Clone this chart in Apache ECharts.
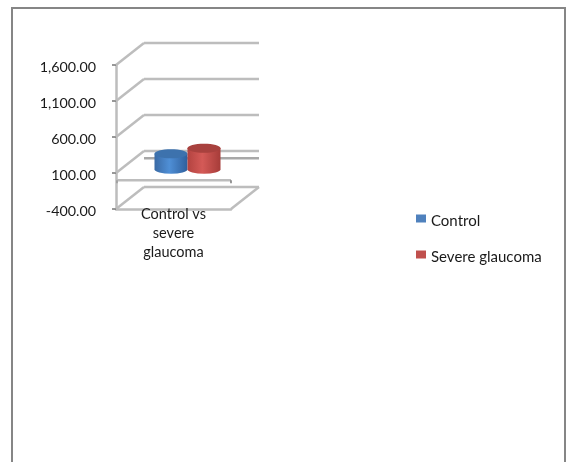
<!DOCTYPE html>
<html><head><meta charset="utf-8">
<style>html,body{margin:0;padding:0;background:#fff;overflow:hidden}#c{position:absolute;left:0;top:0;width:566px;height:462px;filter:blur(0.5px)}
#f{position:absolute;left:11px;top:7px;width:555px;height:455px;border:2px solid #868686;border-bottom:none;box-sizing:border-box}</style>
<script src="https://cdn.jsdelivr.net/npm/echarts@6/dist/echarts.min.js"></script></head>
<body><div id="f"></div><div id="c"></div>
<script>
const categories = ['Control vs\nsevere\nglaucoma'];
const controlValues = [215];
const severeValues = [290];
const tickValues = [-400, 100, 600, 1100, 1600];
const zeroPlane = [0];

const DX = 28, DY = -22, GRAY = '#bdbdbd';
const chart = echarts.init(document.getElementById('c'));
const line = (a, b, w, c) => ({type:'line', silent:true,
  shape:{x1:a[0],y1:a[1],x2:b[0],y2:b[1]}, style:{stroke:c||GRAY,lineWidth:w||2.5}});

function wallItem(params, api){
  const v = api.value(0);
  const cs = params.coordSys;
  const p = api.coord([0, v]);
  const left = cs.x, right = cs.x + cs.width, y = p[1];
  const kids = [
    line([left,y],[left+DX,y+DY]),
    line([left+DX,y+DY],[right+DX,y+DY])
  ];
  if (v === tickValues[0]) kids.push(line([right,y],[right+DX,y+DY]));
  return {type:'group', children:kids};
}
function zeroItem(params, api){
  const cs = params.coordSys;
  const y = api.coord([0, api.value(0)])[1];
  return {type:'group', children:[
    line([cs.x+DX,y+DY],[cs.x+cs.width+DX,y+DY],2.5,'#a8a8a8'),
    line([cs.x+1,y],[cs.x+cs.width,y]),
    line([cs.x+1,y],[cs.x+1,y+3],1.5,'#999'),
    line([cs.x+cs.width,y],[cs.x+cs.width,y+3],1.5,'#777')
  ]};
}
function cylinder(side, colors){
  return function(params, api){
    const band = api.size([1,0])[0];
    const w = band * 0.287, rx = w/2, ry = 4.5;
    const cx = api.coord([api.value(0), 0])[0] + DX/2 + side*rx;
    const yBase = api.coord([0, 0])[1] + DY/2;
    const yTop = api.coord([0, api.value(1)])[1] + DY/2;
    const body = {type:'path', silent:true,
      shape:{pathData:`M${cx-rx} ${yTop}L${cx-rx} ${yBase}A${rx} ${ry} 0 0 0 ${cx+rx} ${yBase}L${cx+rx} ${yTop}Z`},
      style:{fill:new echarts.graphic.LinearGradient(0,0,1,0,[
        {offset:0,color:colors[0]},{offset:.45,color:colors[1]},{offset:1,color:colors[2]}])}};
    const top = {type:'ellipse', silent:true, shape:{cx:cx,cy:yTop,rx:rx,ry:ry}, style:{fill:colors[3]}};
    return {type:'group', children:[body, top]};
  };
}
chart.setOption({
  animation:false,
  textStyle:{fontFamily:'Lato'},
  grid:{left:116, top:65, width:115, height:144, containLabel:false},
  xAxis:{type:'category', data:categories,
    axisLine:{onZero:false, lineStyle:{color:GRAY,width:2.5}},
    axisTick:{show:false},
    axisLabel:{color:'#1a1a1a', fontSize:14.5, lineHeight:19, margin:-4, interval:0}},
  yAxis:{type:'value', min:-400, max:1600, interval:500,
    axisLine:{show:true, lineStyle:{color:GRAY,width:2.5}},
    axisTick:{show:true, length:4, lineStyle:{color:'#777',width:1.5}},
    splitLine:{show:false},
    axisLabel:{color:'#1a1a1a', fontSize:14.3, margin:20,
      rich:{a:{color:'#1a1a1a',fontSize:14.3,fontFamily:'Lato',padding:[4,0,0,0]}},
      formatter:v=>'{a|'+v.toLocaleString('en-US',{minimumFractionDigits:2,maximumFractionDigits:2})+'}'}},
  legend:{left:411, top:209, orient:'vertical', itemWidth:10, itemHeight:8, itemGap:21,
    icon:'rect', selectedMode:false,
    formatter:n=>'{a|'+n+'}',
    textStyle:{color:'#1a1a1a',fontSize:15,fontFamily:'Lato',
      rich:{a:{color:'#1a1a1a',fontSize:15,fontFamily:'Lato',padding:[6,0,0,0]}}},
    data:['Control','Severe glaucoma']},
  series:[
    {type:'custom', name:'frame', silent:true, z:1, renderItem:wallItem, data:tickValues.map(v=>[v]), encode:{y:0}, tooltip:{show:false}},
    {type:'custom', name:'zero', silent:true, z:1, renderItem:zeroItem, data:zeroPlane.map(v=>[v]), encode:{y:0}, tooltip:{show:false}},
    {type:'custom', name:'Control', z:3, itemStyle:{color:'#4f81bd'}, renderItem:cylinder(-1,['#3a6aa5','#4f8fd6','#2f5f9c','#3d72ad']),
      data:controlValues.map((v,i)=>[i,v]), encode:{x:0,y:1}},
    {type:'custom', name:'Severe glaucoma', z:4, itemStyle:{color:'#c0504d'}, renderItem:cylinder(1,['#b34340','#d45a57','#a63c39','#a8413e']),
      data:severeValues.map((v,i)=>[i,v]), encode:{x:0,y:1}}
  ]
});
</script></body></html>
